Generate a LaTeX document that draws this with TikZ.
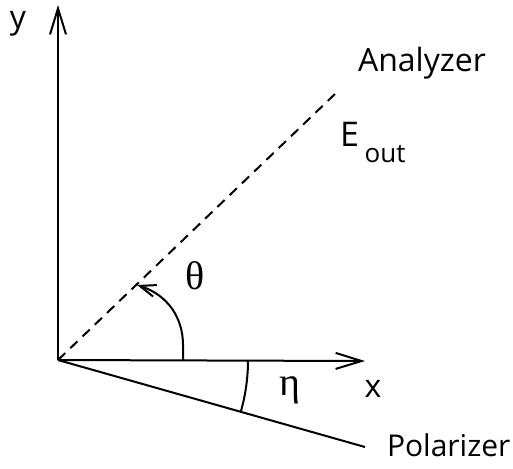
\documentclass[tikz,border=0pt]{standalone}
\usepackage{fontspec}
\setmainfont{Open Sans}
\newfontfamily\greekfont{Liberation Serif}
\usetikzlibrary{arrows.meta}
\begin{document}
\begin{tikzpicture}[x=0.5pt,y=-0.5pt,line width=1pt,
    axis/.style={-{Straight Barb[length=13pt,width=8pt]}},
    lbl/.style={font=\fontsize{16}{18}\selectfont,inner sep=0pt},
    greek/.style={font=\greekfont\fontsize{20}{22}\selectfont,inner sep=0pt}]
        \useasboundingbox (0,0) rectangle (513,468);
        \coordinate (O) at (58,360);
        \coordinate (ytip) at (58,5);
        \coordinate (xtip) at (365,361);
        \coordinate (ana) at (336,93);
        \coordinate (pol) at (365,447);
        \draw[axis] (O) -- (ytip);
        \draw[axis] (O) -- (xtip);
        \draw[dash pattern=on 5pt off 3.5pt] (O) -- (ana);
        \draw (O) -- (pol);
        % angle marks
        \draw[-{Straight Barb[length=8pt,width=6pt]}] (183,360) -- (183,345)
          .. controls (183,318) and (168,295) .. (137,285);
        \draw (248,360) arc[start angle=0,end angle=15.8,radius=190];
        \node[lbl] (ylbl) at (18,24) {y};
        \node[lbl] (xlbl) at (373,389) {x};
        \node[lbl,anchor=west] (analbl) at (357,63) {Analyzer};
        \node[lbl,anchor=west,font=\fontsize{15}{17}\selectfont] (pollbl) at (386,445) {Polarizer};
        \node[anchor=base west,inner sep=0pt] (eout) at (339,146)
          {\fontsize{17}{19}\selectfont E\,\raisebox{-8pt}{\fontsize{13}{15}\selectfont out}};
        \node[greek] (theta) at (195,276) {θ};
        \node[greek] (eta) at (290,390) {η};
      \end{tikzpicture}
\end{document}
